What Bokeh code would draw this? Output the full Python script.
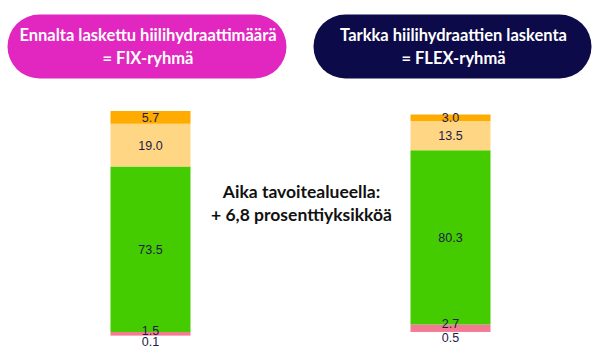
import numpy as np
from bokeh.plotting import figure
from bokeh.models import Range1d, ColumnDataSource, BoxAnnotation, Label
from bokeh.core.properties import value
from bokeh.embed import file_html
from bokeh.resources import INLINE

# ---- data ----
groups = ["FIX-ryhmä", "FLEX-ryhmä"]
very_low = [0.1, 0.5]     # < 3.0 mmol/l
low = [1.5, 2.7]          # 3.0-3.9
in_range = [73.5, 80.3]   # 3.9-10.0
high = [19.0, 13.5]       # 10.0-13.9
very_high = [5.7, 3.0]    # > 13.9
header_lines = [["Ennalta laskettu hiilihydraattimäärä", "= FIX-ryhmä"],
                ["Tarkka hiilihydraattien laskenta", "= FLEX-ryhmä"]]
middle_lines = ["Aika tavoitealueella:", "+ 6,8 prosenttiyksikköä"]

seg_names = ["very_low", "low", "in_range", "high", "very_high"]
seg_values = [very_low, low, in_range, high, very_high]
seg_colors = ["#e8003d", "#f47a91", "#44cc00", "#ffd683", "#ffab00"]

# ---- layout ----
W, H = 600, 352
# per-group vertical scale: (bottom pixel from top, pixels per percent)
scales = [(335.0, 2.25), (331.0, 2.17)]
range_names = ["default", "flex"]

def yr(bottom_px, ppu):
    return Range1d(start=(bottom_px - H) / ppu, end=bottom_px / ppu)

p = figure(width=W, height=H, x_range=groups, output_backend="svg",
           toolbar_location=None, min_border=0, outline_line_color=None,
           background_fill_color="white", border_fill_color="white")
p.y_range = yr(*scales[0])
p.extra_y_ranges = {"flex": yr(*scales[1])}
p.xaxis.visible = False
p.yaxis.visible = False
p.grid.visible = False
p.x_range.range_padding = 0

px_per_x = W / len(groups)

def fy(px):
    b, s = scales[0]
    return (b - px) / s

def fx(px):
    return px / px_per_x

bar_width = 80 / px_per_x
label_color = "#1c1a4a"
label_font = value("Liberation Sans")

vals = np.array(seg_values)  # shape (segments, groups)
tops = np.cumsum(vals, axis=0)
bottoms = tops - vals

for gi, g in enumerate(groups):
    rn = range_names[gi]
    src = ColumnDataSource(dict(
        x=[g] * len(seg_names),
        bottom=bottoms[:, gi], top=tops[:, gi], color=seg_colors))
    p.vbar(x="x", width=bar_width, bottom="bottom", top="top",
           fill_color="color", line_color=None, source=src, y_range_name=rn)

    # centred labels for the three large segments
    mid_idx = [2, 3, 4]
    msrc = ColumnDataSource(dict(
        x=[g] * 3,
        y=[(bottoms[i, gi] + tops[i, gi]) / 2 for i in mid_idx],
        t=[f"{vals[i, gi]:.1f}" for i in mid_idx]))
    p.text(x="x", y="y", text="t", source=msrc, y_range_name=rn,
           text_align="center", text_baseline="middle",
           text_font=label_font, text_font_size="12.5px", text_color=label_color)

    # "low" label sits just above its thin segment
    lsrc = ColumnDataSource(dict(x=[g], y=[tops[1, gi]], t=[f"{vals[1, gi]:.1f}"]))
    p.text(x="x", y="y", text="t", source=lsrc, y_range_name=rn,
           text_align="center", text_baseline="alphabetic", y_offset=-1.5,
           text_font=label_font, text_font_size="12.5px", text_color=label_color)

    # "very low" label below the bar
    vsrc = ColumnDataSource(dict(x=[g], y=[bottoms[0, gi]], t=[f"{vals[0, gi]:.1f}"]))
    p.text(x="x", y="y", text="t", source=vsrc, y_range_name=rn,
           text_align="center", text_baseline="top", y_offset=1,
           text_font=label_font, text_font_size="12.5px", text_color=label_color)

# ---- header pills ----
pill_px = [(7, 286), (313, 591)]
pill_colors = ["#e127bf", "#0d0a4a"]
for (l, r), col, lines in zip(pill_px, pill_colors, header_lines):
    p.add_layout(BoxAnnotation(left=fx(l), right=fx(r), top=fy(14), bottom=fy(78),
                               fill_color=col, fill_alpha=1.0, line_color=None,
                               border_radius=32, level="underlay"))
    cx = fx((l + r) / 2 + 1)
    for line, ypx in zip(lines, [34.5, 57.5]):
        p.add_layout(Label(x=cx, y=fy(ypx), text=line, text_align="center",
                           text_baseline="middle", text_color="white",
                           text_font="Lato", text_font_style="bold",
                           text_font_size="16.5px"))

# ---- middle annotation ----
for line, ypx in zip(middle_lines, [190.5, 214]):
    p.add_layout(Label(x=fx(301), y=fy(ypx), text=line, text_align="center",
                       text_baseline="middle", text_color="#111111",
                       text_font="Lato", text_font_style="bold",
                       text_font_size="17.5px"))

open("out.html", "w").write(file_html(p, INLINE))
